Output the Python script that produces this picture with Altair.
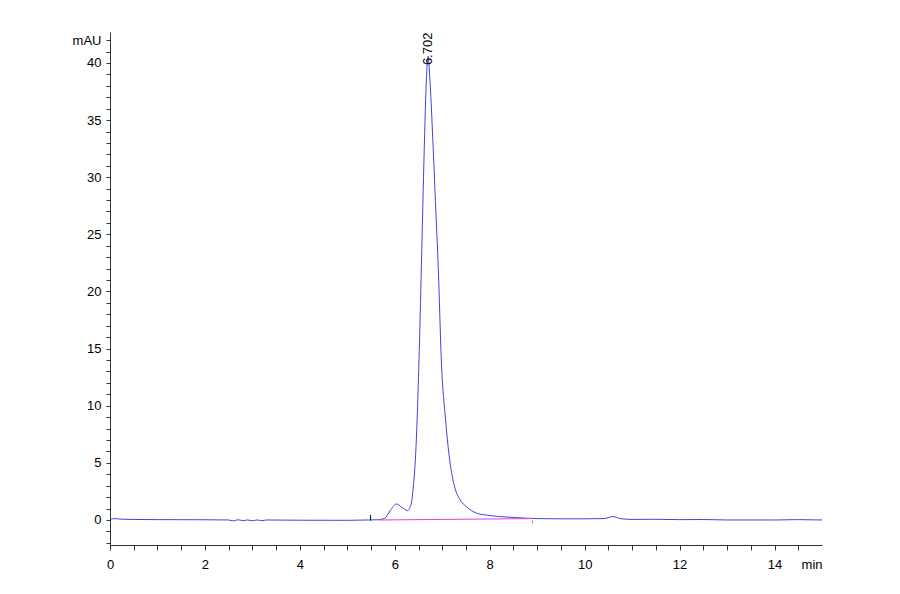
import altair as alt
import pandas as pd

# Chromatogram trace (time in min, absorbance in mAU)
time = [0.0, 0.1, 0.2, 0.4, 1.0, 2.0, 2.5, 2.6, 2.7, 2.8, 2.9, 3.0, 3.1, 3.2, 3.3,
        4.0, 5.0, 5.45, 5.65, 5.79, 5.9, 6.035, 6.15, 6.27, 6.32, 6.35,
        6.39, 6.44, 6.47, 6.51, 6.56, 6.62, 6.66, 6.70, 6.74, 6.81, 6.87, 6.915,
        6.98, 7.07, 7.14, 7.26, 7.37, 7.51, 7.72, 7.95, 8.2, 8.6, 9.0, 9.5, 10.0, 10.4,
        10.6, 10.75, 11.0, 11.5, 12.0, 12.5, 13.0, 14.0, 14.5, 15.0]
mau = [0.05, 0.12, 0.08, 0.05, 0.03, 0.02, 0.0, -0.08, 0.02, -0.06, 0.0, -0.07, 0.0, -0.06, 0.0,
       -0.02, -0.03, 0.0, 0.02, 0.15, 0.8, 1.40, 1.1, 0.82, 1.1, 1.5,
       2.9, 5.8, 8.75, 14.0, 22.2, 32.4, 38.0, 40.6, 38.5, 32.4, 26.5, 22.2,
       14.0, 8.75, 5.8, 2.9, 1.8, 1.16, 0.6, 0.42, 0.3, 0.2, 0.12, 0.1, 0.1, 0.12,
       0.3, 0.12, 0.05, 0.06, 0.03, 0.04, 0.0, 0.0, 0.03, 0.0]

# Integration baseline
base_time = [5.68, 8.9]
base_mau = [0.0, 0.12]

# Integration event markers
mark_time = [5.49, 8.9]
mark_y1 = [-0.05, -0.3]
mark_y2 = [0.45, -0.05]
mark_color = ["#000000", "#888888"]

# Peak annotation
peak_time = [6.702]
peak_mau = [40.6]
peak_label = ["6.702"]

x_dom = [0, 15]
y_dom = [-2.19, 42.71]
x_ticks = [i * 0.5 for i in range(0, 30)]
y_ticks = list(range(-2, 43))

FONT = "Liberation Sans Narrow, Liberation Sans, Arial"

trace = pd.DataFrame({"t": time, "v": mau})
base = pd.DataFrame({"t": base_time, "v": base_mau})
marks = pd.DataFrame({"t": mark_time, "y1": mark_y1, "y2": mark_y2, "c": mark_color})
peak = pd.DataFrame({"t": peak_time, "v": peak_mau, "lab": peak_label})

xs = alt.Scale(domain=x_dom, nice=False, zero=False)
ys = alt.Scale(domain=y_dom, nice=False, zero=False)

x_axis = alt.Axis(
    values=x_ticks, format=".0f", tickCount=len(x_ticks),
    labelExpr="datum.value % 2 == 0 ? datum.label : ''",
    grid=False, tickSize=5, labelPadding=8, labelFlush=False, labelOverlap=False,
    title="min", titleX=712, titleY=13, titleAlign="right", titleBaseline="top",
    titleFontWeight="normal", titleFontSize=13, titleFont=FONT,
    labelFont=FONT, labelFontSize=13, labelColor="#000000", titleColor="#000000",
    domainColor="#333333", tickColor="#333333",
)
y_axis = alt.Axis(
    values=y_ticks, format=".0f", tickCount=len(y_ticks),
    labelExpr="datum.value == 42 ? 'mAU' : ((datum.value % 5 == 0 && datum.value >= 0) ? datum.label : '')",
    grid=False, tickSize=4, labelPadding=5, labelFlush=False, labelOverlap=False,
    title="", labelFont=FONT, labelFontSize=13, labelColor="#000000",
    domainColor="#333333", tickColor="#333333",
)

X = alt.X("t:Q", scale=xs, axis=x_axis)
Y = alt.Y("v:Q", scale=ys, axis=y_axis)

line = alt.Chart(trace).mark_line(color="#4343dc", strokeWidth=1, interpolate="monotone", clip=True).encode(
    x=X, y=Y,
)

bl = alt.Chart(base).mark_line(color="#e040e0", strokeWidth=1, clip=True).encode(
    x=X, y=Y,
)

ev = alt.Chart(marks).mark_rule(strokeWidth=1).encode(
    x=X,
    y=alt.Y("y1:Q", scale=ys, axis=y_axis),
    y2="y2:Q",
    color=alt.Color("c:N", scale=None),
)

lab = alt.Chart(peak).mark_text(angle=270, align="left", baseline="middle", dx=-9,
                                font="Liberation Sans", fontSize=13, color="#000000").encode(
    x=X, y=Y,
    text="lab:N",
)

chart = (line + bl + ev + lab).properties(
    width=712, height=513,
    autosize=alt.AutoSizeParams(type="none"),
    padding={"left": 102, "top": 24, "right": 70, "bottom": 41},
    background="white",
).configure_view(strokeWidth=0)

chart.save("out.html", embed_options={"renderer": "svg", "actions": False})
